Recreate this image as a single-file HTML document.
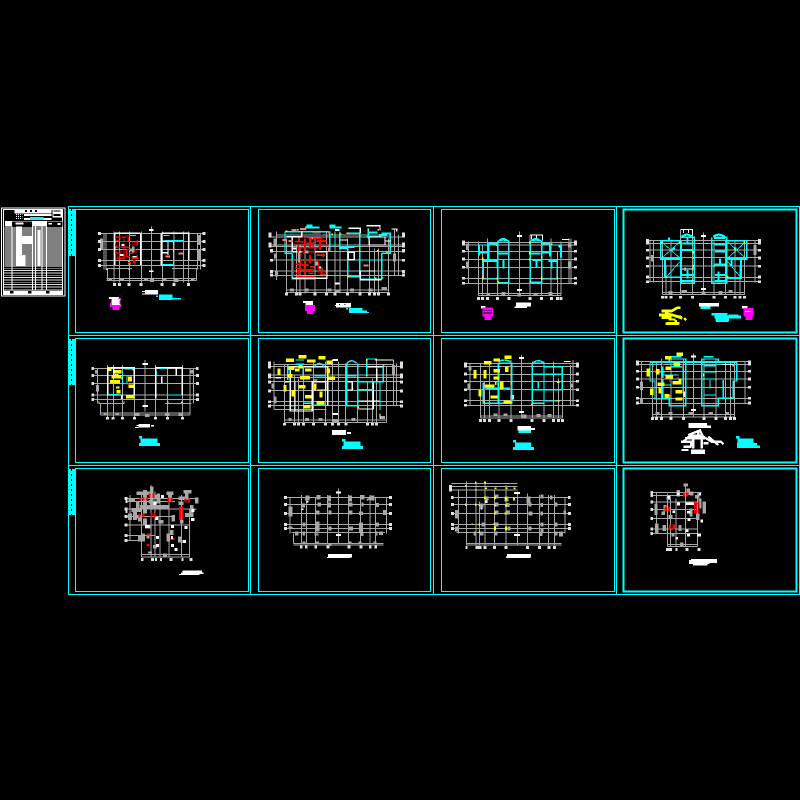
<!DOCTYPE html>
<html><head><meta charset="utf-8"><style>
html,body{margin:0;padding:0;background:#000}
svg{display:block}
path,rect{shape-rendering:crispEdges}
.g{stroke:#a8a8a8;stroke-width:3;fill:none}
.gt{stroke:#a8a8a8;stroke-width:9;fill:none}
.b{stroke:#e0e0e0;stroke-width:9;fill:none}
.w{stroke:#fff;stroke-width:3;fill:none}
.wt{stroke:#fff;stroke-width:8;fill:none}
.c{stroke:#0ff;stroke-width:3;fill:none}
.ct{stroke:#0ff;stroke-width:6;fill:none}
.cd{stroke:#0ff;stroke-width:12;fill:none}
.y{stroke:#ff0;stroke-width:3;fill:none}
.yt{stroke:#ff0;stroke-width:12;fill:none}
.r{stroke:#f00;stroke-width:3;fill:none}
.rt{stroke:#f00;stroke-width:9;fill:none}
.p{stroke:#f08070;stroke-width:6;fill:none}
.m{stroke:#f0f;stroke-width:9;fill:none}
.bl{stroke:#a8a8a8;stroke-width:12;fill:none}
.wb{fill:#fff}.cb{fill:#0ff}
</style></head><body>
<svg width="800" height="800" viewBox="0 0 800 800" xmlns="http://www.w3.org/2000/svg">
<rect width="800" height="800" fill="#000"/>

<!-- frames -->
<g fill="none" stroke="#0ff" stroke-width="1">
<path d="M68.500 206.500H799.500V594.500H68.500ZM68.500 335.500H799.500M68.500 465.500H799.500M250.500 206.500V594.500M433.500 206.500V594.500M616.500 206.500V594.500"/>
<rect x="75.500" y="209.500" width="173" height="123"/><rect x="258.500" y="209.500" width="172" height="123"/><rect x="441.500" y="209.500" width="173" height="123"/>
<rect x="75.500" y="338.500" width="173" height="124"/><rect x="258.500" y="338.500" width="172" height="124"/><rect x="441.500" y="338.500" width="173" height="124"/>
<rect x="75.500" y="468.500" width="173" height="123"/><rect x="258.500" y="468.500" width="172" height="123"/><rect x="441.500" y="468.500" width="173" height="123"/>
<rect x="623.500" y="209.500" width="173" height="123" stroke-width="2"/><rect x="623.500" y="338.500" width="173" height="124" stroke-width="2"/><rect x="623.500" y="468.500" width="173" height="123" stroke-width="2"/>
</g>
<g><rect x="69" y="209" width="6" height="47" fill="#0ff"/><rect x="69" y="339" width="6" height="46" fill="#0ff"/><rect x="69" y="469" width="6" height="46" fill="#0ff"/>
<path d="M71.500 209V256M71.500 339V385M71.500 469V515" stroke="#000" stroke-width="1" stroke-dasharray="2 3" fill="none"/></g>

<!-- title block + plan 1 -->
<g transform="translate(0,200) scale(.33333)">
<rect x="4.500" y="23.500" width="190" height="264" fill="none" stroke="#fff" stroke-width="3"/>
<rect x="10" y="28" width="178" height="255" fill="none" stroke="#fff" stroke-width="3"/>
<rect x="44" y="27" width="110" height="13" class="wb"/><path d="M75 33h45" stroke="#000" stroke-width="5" stroke-dasharray="6 9"/>
<rect x="72" y="42" width="82" height="6" class="wb"/><rect x="72" y="54" width="82" height="6" class="wb"/><rect x="90" y="51" width="40" height="9" class="cb"/>
<rect x="157" y="27" width="30" height="26" class="wb"/><rect x="160" y="32" width="22" height="3" fill="#000"/><rect x="160" y="42" width="22" height="6" fill="#000"/>
<path d="M48 44h20M48 50h20M48 56h20" stroke="#fff" stroke-width="3" stroke-dasharray="3 3"/>
<rect x="15" y="63" width="172" height="16" class="wb"/><rect x="36" y="64" width="60" height="15" fill="#000"/><rect x="140" y="64" width="47" height="15" fill="#000"/><rect x="46" y="68" width="24" height="6" class="wb"/><rect x="146" y="69" width="10" height="5" class="wb"/><rect x="173" y="69" width="8" height="6" class="wb"/>
<rect x="48" y="80" width="18" height="120" class="wb"/><rect x="66" y="110" width="30" height="24" class="wb"/><rect x="66" y="165" width="10" height="35" class="wb"/><rect x="112" y="90" width="10" height="110" class="wb"/>
<path d="M14 84h174M14 90h174M14 96h174M14 102h174M14 108h174M14 114h174M14 120h174M14 126h174M14 132h174M14 138h174M14 144h174M14 150h174M14 156h174M14 162h174M14 168h174M14 174h174M14 180h174M14 186h174M14 192h174M14 198h174" stroke="#fff" stroke-width="3" fill="none"/>
<path d="M12 205h175M12 212h175M12 219h175M12 226h175M12 233h175M12 240h175M12 247h175M12 254h175M12 261h175M12 268h175" stroke="#ddd" stroke-width="2.500"/>
<path d="M36 80V270M97 80V270M106 80V270M126 80V270M139 64V270" stroke="#fff" stroke-width="3"/>
<rect x="12" y="272" width="176" height="10" class="wb"/><path d="M30 277h120" stroke="#000" stroke-width="8" stroke-dasharray="10 44"/>

<path class="g" d="M300 100H610M300 124H610M300 148H610M300 182H610M300 196H610M318 205H396M516 205H595M320 236H590M320 242H590M312 100V208M318 100V208M342 95V248M358 95V248M388 95V248M424 95V248M454 80V240M487 95V248M522 95V248M550 95V248M566 95V248M592 100V208M602 100V208M322 205V242M589 205V242"/>
<path class="gt" d="M326 239h10M360 239h12M432 239h12M450 241h12M488 239h12M524 241h12M573 239h10M304 115v35M596 105v30M596 150v30"/>
<path class="b" d="M294 100h9M294 124h9M294 148h9M294 182h9M294 196h9M608 124h9M608 148h9M608 182h9M608 196h9M339 253h9M354 253h9M383 253h9M419 253h9M482 253h9M517 253h9M561 253h9M608 100h8"/>
<path class="wt" d="M447 90h14M447 214h14" style="stroke-width:5"/>
<path class="w" d="M344 100V195M422 100V195M344 100H422M484 100V195H520M566 100V180M484 100H568M504 125V165M484 124H520" style="stroke-width:4"/>
<path class="c" d="M390 107h18M490 107h18M494 122H552M520 122v70M488 193h32M385 182v12"/>
<path class="r" style="stroke-width:4" d="M347 107v8M360 107v14M380 108h10M347 130v9M347 150v12M360 150v30M372 135v45M395 126h15M412 120v18M388 160h12M350 175h25M412 165v14M404 180v14M380 170h10M408 150v12M350 112h10M366 112h14M350 122h10M368 130v10M346 142h14M350 160h10M362 142h26M385 112v14M392 135h16M380 150v18M396 170v10M350 168h8M366 168h16M384 188h10"/>
<path class="r" style="stroke:#c02a00;stroke-width:3" d="M360 125h30M372 110v14M378 148h30M395 175h22M400 180v10"/>
<path class="g" style="stroke-width:8" d="M400 140v18M390 150h14"/>
<path class="wt" style="stroke-width:5" d="M365 135h8M360 165h10M398 170h12M485 158h18"/>
<path class="y" d="M520 125v8M520 148v8M386 192h6M318 208h6M340 208h4M386 208h4"/>
<path class="p" d="M497 170h13M535 161h14"/>
<rect x="435" y="270" width="39" height="14" class="wb"/><path class="w" d="M426 274h9M426 282h9"/>
<rect x="468" y="286" width="6" height="5" class="cb"/><rect x="477" y="283" width="40" height="17" class="cb"/><rect x="517" y="294" width="26" height="5" class="cb"/>
<rect x="327" y="291" width="30" height="6" class="wb"/><rect x="335" y="297" width="26" height="18" class="wb"/><rect x="330" y="315" width="34" height="6" fill="#f0f"/><rect x="338" y="321" width="20" height="9" fill="#f0f"/><path class="m" style="stroke-width:3" d="M355 295h8M360 302v10M332 308v8"/>
</g>

<!-- plan 2 -->
<g transform="translate(255,205) scale(.33333)">
<path class="g" d="M48 96H448M48 120H448M48 125H448M48 140H448M48 165H448M48 198H448M48 212H448M65 90H405M95 255H400M95 262H400M65 80V225M95 100V265M124 120V265M135 120V265M150 120V265M180 100V265M215 80V265M240 80V265M255 80V265M278 100V265M315 100V265M343 100V265M358 130V265M370 130V265M400 100V265M418 70V212M430 90V212"/>
<path class="gt" d="M62 145v15M60 100v25M65 200v15M418 145v25M105 255h12M150 255h10M218 255h12M238 258h16M285 255h12M340 255h12M380 250h16"/>
<path class="b" d="M45 82v16M45 112v16M50 132v10M50 162v8M50 195v10M50 207v8M445 82v16M445 112v16M445 132v10M445 162v8M445 195v10M445 207v8M95 263v9M125 263v9M135 263v9M180 263v9M215 263v9M240 263v9M278 263v9M315 263v9M343 263v9M358 263v9M370 263v9M400 263v9"/>
<path class="c" style="stroke-width:4" d="M90 80V145H112M90 80h135M224 80v60M240 80v50M254 82V130H278M314 85V215H278V130M278 85H315M380 85h26v60H380M380 145V222H316M340 70v30M335 95h45M112 145V222H180M280 165H380"/>
<path class="cd" style="stroke-width:6" d="M155 62h18M224 62h18M150 67h44M224 67h36M340 82h28M372 90h24M268 126h30M252 128h26"/>
<path class="w" style="stroke-width:4" d="M112 140H216V220H112M95 95H145M112 95V140M140 80v15M280 142h18v22H280ZM342 96V120H390V96H342M316 196V224H380M318 198H360M280 70h36V85M335 62h40v14M410 72h15v8M255 105h24M390 108h18"/>
<path class="wt" style="stroke-width:6" d="M240 75h14M240 235h14M110 130h14M188 188h10"/>
<path class="r" style="stroke-width:5" d="M132 98v10M145 85v12M172 85h24M160 100h40M200 88v12M150 115h30M135 128h55M165 100v30M115 165v50M122 178h15M140 180h20M165 185h14M122 205h10M188 162v10M188 200h25M190 172v20M205 145v12M145 145h16M125 215h55M135 162v20M210 120h8M120 110h25M130 120v25M150 100v30M175 110v20M195 110v25M140 140h40M128 150h12M165 150v25M120 190h20M150 195h25M175 170h10M132 195v15M185 108h30"/>
<path class="r" style="stroke:#b82a00;stroke-width:5" d="M145 165h30M150 178v30M135 195h20M190 195h15M195 208h20M160 205h15M185 150h25M200 185v20"/>
<path class="g" style="stroke-width:7" d="M132 142v30M185 170v12M150 140h10"/>
<path class="y" style="stroke-width:4" d="M92 78h5M128 72v5M232 85v5M258 85v5M275 85h5M340 72v4M370 72v4M396 140v5M368 135v5M315 135v5M315 90v5M280 212v5M380 219h5M360 220h5"/>
<path class="p" d="M110 75h14M135 72h20M82 105h14M100 108h14M325 181h16M222 78v8M222 128v10M170 100h4"/>
<rect x="243" y="294" width="45" height="13" class="wb"/><path class="w" d="M240 302h6"/><path d="M252 298h3M268 298h3" stroke="#000" stroke-width="3"/>
<rect x="273" y="309" width="6" height="5" class="cb"/><rect x="282" y="309" width="40" height="15" class="cb"/><rect x="322" y="317" width="14" height="7" class="cb"/><rect x="336" y="321" width="6" height="3" class="cb"/>
<rect x="144" y="288" width="30" height="6" class="wb"/><rect x="152" y="294" width="22" height="6" class="wb"/><rect x="150" y="300" width="30" height="18" fill="#f0f"/><rect x="156" y="318" width="18" height="9" fill="#f0f"/>
</g>

<!-- plans 3 and 4 -->
<g transform="translate(435,205) scale(.33333)">
<path class="g" d="M85 112H422M85 120H422M85 140H422M85 163H422M85 187H422M85 220H422M85 235H422M130 265H378M130 272H378M100 110V237M130 110V272M142 120V272M157 100V272M187 110V272M220 110V272M253 80V272M285 90V272M320 110V272M348 100V272M367 140V272M378 110V272M408 100V237M402 100V237"/>
<path class="gt" d="M97 170v20M97 115v20M403 170v20M404 115v12M155 268h10M200 266h12M248 270h10M295 268h12M340 266h12"/>
<path class="b" d="M85 106v16M85 135v8M85 158v8M85 183v8M85 216v8M85 231v8M421 106v16M421 135v8M421 158v8M421 183v8M421 216v8M421 231v8M130 276v9M142 276v9M157 276v9M187 276v9M222 276v9M285 276v9M320 276v9M350 276v9M367 276v9M378 276v9"/>
<path class="w" d="M285 90h37v16M290 90v14M305 90v14M381 103h22"/>
<path class="wt" style="stroke-width:5" d="M246 93h15M246 255h15"/>
<path class="c" style="stroke-width:4" d="M188 108H222V233H188V108M286 108H320V232H286V108M145 162v60H188M367 162v60H320M130 120h30M349 120h28"/>
<path class="ct" d="M132 122v30M160 115h25v8M160 115v50M132 142h25M190 145h30M145 168h40M187 165v25M205 165v25M192 108q12-12 26 0M290 108q12-12 26 0M288 145h28M320 115h25M345 118v36M320 142h25M378 122v36M292 165h28M340 168h25M305 165v22M350 165v25"/>
<path class="y" style="stroke-width:4" d="M143 158v8M143 215v8M187 218v6M187 232h5M284 110v6M284 140v8M284 160v6M320 155v6M320 215v10M367 215v8M347 118h5M373 122v6M284 230h4"/>
<rect x="243" y="293" width="45" height="12" class="wb"/><rect x="238" y="305" width="38" height="4" class="wb"/>
<rect x="138" y="303" width="14" height="8" class="wb"/><rect x="143" y="308" width="31" height="27" fill="#f0f"/><path d="M145 316h26M145 324h26" stroke="#000" stroke-width="2"/><rect x="149" y="335" width="20" height="10" fill="#f0f"/>

<path class="g" d="M635 107H975M635 115H975M635 135H975M635 158H975M635 183H975M635 217H975M635 230H975M683 262H930M683 268H930M645 105V232M655 105V232M683 110V268M693 180V268M708 105V268M737 75V268M772 75V268M805 82V268M837 105V268M872 105V268M900 105V268M915 180V268M928 110V268M960 105V232"/>
<path class="gt" d="M652 150v20M960 120v30M700 262h12M740 260h16M800 264h12M850 262h12M880 260h12"/>
<path class="b" d="M637 102v16M637 132v8M637 155v8M637 180v8M637 212v8M637 226v8M973 102v16M973 132v8M973 155v8M973 180v8M973 212v8M973 226v8M683 273v7M693 273v7M708 273v7M737 273v7M772 273v7M837 273v7M872 273v7M900 273v7M915 273v7M928 273v7"/>
<path class="w" d="M737 73h36v22M745 74v10M760 74v10M737 192h45M750 188v10"/>
<path class="wt" style="stroke-width:5" d="M798 93h15M798 252h15"/>
<path class="c" style="stroke-width:5" d="M677 107H738V235H778V97H737M677 107V162H737M702 107V98M690 162V217H737M835 97H875V235H830V97M875 107H935V162H875M918 162V220H875M837 100H870"/>
<path class="c" style="stroke-width:2.500" d="M682 112L733 158M733 112L682 158M880 112L930 158M930 112L880 158M695 215L735 170M915 215L878 170"/>
<path class="ct" d="M740 95q15-12 32 0M742 115h32M757 95v20M835 95q15-12 35 0M838 118h34M740 135h34M840 140h32M735 210h40M757 195v25M840 210h30M850 200v25M840 228h38M740 228h36M712 130h8M897 130h8M838 178h34M855 160v20M890 160v25"/>
<path class="y" style="stroke-width:4" d="M680 110v5M734 110v5M775 138v8M775 180v8M738 162h5M772 158h5M837 180v6M872 178v6M900 130v6M928 110v6M690 215h5M875 215h5M770 228h5M738 228h5"/>
<rect x="792" y="294" width="60" height="10" class="wb"/><rect x="797" y="304" width="30" height="8" class="cb"/>
<path stroke="#ff0" stroke-width="8" fill="none" d="M680 318l30 0l18-10h8M672 330h40l30 10M690 325l50 12M680 338h30M722 345v10M695 355h38M748 345l5-5"/>
<rect x="700" y="340" width="22" height="7" fill="#ff0"/><rect x="692" y="352" width="40" height="8" fill="#ff0"/>
<path class="cd" style="stroke-width:8" d="M830 328h48M838 336h80M842 344h40M880 332h30"/><rect x="843" y="345" width="38" height="6" class="cb"/>
<rect x="921" y="303" width="16" height="8" class="wb"/><rect x="926" y="309" width="30" height="26" fill="#f0f"/><rect x="930" y="318" width="16" height="3" class="wb"/><rect x="932" y="335" width="20" height="10" fill="#f0f"/>
</g>

<!-- plans 5 and 6 -->
<g transform="translate(65,335) scale(.33333)">
<path class="g" d="M82 100H398M82 122H398M82 146H398M82 180H398M82 193H398M100 205H178M300 205H380M106 234H375M106 240H375M97 100V205M127 90V248M145 90V248M172 90V248M208 100V248M240 75V230M272 90V248M307 100V248M352 90V248M375 100V240M385 100V205M106 205V240"/>
<path class="gt" d="M115 237h10M152 237h10M210 239h14M240 241h14M300 239h14M340 238h12M95 105v10M380 105v10M97 150v20"/>
<path class="b" d="M79 100h8M79 122h8M79 146h8M79 180h8M79 193h8M393 122h9M393 146h9M393 180h9M393 193h9M393 100h7M128 246v8M144 246v8M172 246v8M208 246v8M271 246v8M307 246v8M352 246v8"/>
<path class="wt" style="stroke-width:6" d="M232 87h17M232 213h17"/>
<path class="w" style="stroke-width:4" d="M128 98V180H172M128 98H208V180M272 98H352V180M272 98V190M334 98V122M290 124V146M146 100v30M170 180v12"/>
<path class="c" d="M172 108v40M178 102h30M275 108v12M283 100h18M186 122v24M290 146h60M310 180h40M132 178h30"/>
<path class="yt" d="M130 102h10M148 110h22M135 140h30M140 125h30M195 125v15M190 154h18M183 185h25M155 170h12M150 122h10M158 155v6" style="stroke-width:11"/>
<path class="y" style="stroke-width:4" d="M175 202h4M100 202h4M348 202h4M307 202h4M205 102v5M172 128v6"/>
<path class="r" d="M184 147h8"/>
<rect x="220" y="267" width="35" height="11" class="wb"/><rect x="258" y="270" width="9" height="5" class="wb"/><path class="w" d="M210 277h10M214 271h6"/>
<rect x="222" y="303" width="9" height="7" class="cb"/><rect x="227" y="310" width="50" height="14" class="cb"/><rect x="222" y="324" width="63" height="9" class="cb"/>

<path class="g" d="M612 95H1010M612 120H1010M612 127H1010M612 140H1010M612 166H1010M612 200H1010M612 212H1010M627 88H985M627 224H785M658 255H965M658 262H965M627 80V224M658 88V262M688 120V262M700 130V262M715 100V262M745 75V262M782 80V262M803 75V262M820 80V262M842 85V262M878 85V262M908 140V262M922 130V262M935 75V262M965 95V262M985 75V212M995 85V212"/>
<path class="gt" d="M624 145v15M630 185v20M985 90v30M670 253h10M720 253h12M760 253h12M803 256h18M860 253h12M945 248h15"/>
<path class="b" d="M614 80v20M614 115v15M614 137v8M614 164v8M614 196v8M614 209v8M1009 80v20M1009 115v15M1009 137v8M1009 164v8M1009 196v8M1009 209v8M658 264v8M688 264v8M700 264v8M715 264v8M745 264v8M782 264v8M802 264v8M820 264v8M843 264v8M908 264v8M922 264v8M935 264v8"/>
<path class="wt" style="stroke-width:6" d="M803 75h16M803 237h16"/>
<path class="w" style="stroke-width:4" d="M676 95H788V212M676 95V228H742V140H782V165H745M690 140V228M845 140H862V165H845ZM905 95H955M935 100V140M880 198H945M880 222H925M925 140V222M945 140V222M930 75H985M632 128h16M660 140h12M745 135h12"/>
<path class="c" style="stroke-width:4" d="M668 90V135M692 75h25M692 88h25M715 95v35M748 95q15-20 30 0M748 122h32M845 85q15-15 30 0M845 85V212H878V85M845 122h30M905 72h28M905 72V120M955 90V140H878M878 164H925M945 140V225M845 212H880M742 210h40M676 212h10M715 205h25"/>
<path class="yt" d="M663 76h24M700 65h25M726 78h25M760 68h22M785 82h18M642 100v20M670 100h18M690 105h14M720 105h20M790 100v16M788 130h22M705 128h30M660 150v20M685 165v20M700 155h22M750 145v20M720 185h20M768 170v18M755 203h24M668 122h14M715 215h22M700 95h12" style="stroke-width:10"/>
<path class="y" style="stroke-width:4" d="M905 72v8M933 72h3M955 90h4M905 120v5M825 120h3M880 215v6"/>
<path class="r" d="M755 160v6M865 160v6"/>
<path class="w" d="M945 235v16"/>
<rect x="801" y="285" width="42" height="15" class="wb"/><rect x="846" y="291" width="12" height="6" class="wb"/>
<rect x="831" y="312" width="10" height="7" class="cb"/><rect x="836" y="319" width="50" height="14" class="cb"/><rect x="831" y="333" width="63" height="9" class="cb"/>
</g>

<!-- plans 7 and 8 -->
<g transform="translate(435,335) scale(.33333)">
<path class="g" d="M90 85H428M90 95H428M90 118H428M90 140H428M90 164H428M90 197H428M90 211H428M137 243H383M137 249H383M105 85V211M137 85V249M148 140V249M163 85V249M192 75V249M228 75V249M260 60V249M292 80V249M327 80V249M355 80V249M370 130V249M382 95V249M414 75V211M407 90V211"/>
<path class="gt" d="M102 145v20M105 95v12M410 145v12M175 240h12M205 240h12M260 243h14M305 241h12M338 241h12"/>
<path class="b" d="M91 82v16M91 113v8M91 135v8M91 160v8M91 193v8M91 207v8M427 82v16M427 113v8M427 135v8M427 160v8M427 193v8M427 207v8M136 252v9M148 252v9M163 252v9M192 252v9M228 252v9M291 252v9M327 252v9M355 252v9M370 252v9M382 252v9"/>
<path class="wt" style="stroke-width:6" d="M252 69h15M252 231h15"/>
<path class="w" d="M387 79h20M345 95h12"/>
<rect x="227" y="180" width="10" height="14" class="wb"/>
<path class="c" style="stroke-width:4" d="M190 85H230V205H145V142M292 85H327V205H292V85M327 95h55V164M327 118h55M292 118h35M292 164h90M330 198h45M190 80q18-10 36 0M295 82q15-10 30 0M145 160h80M190 85V205M310 140v20M345 198h15"/>
<path class="yt" d="M147 83h22M175 75h20M208 67h22M120 105v25M150 105v25M175 107h20M215 95v16M175 129h18M150 153h28M200 140v22M135 165v20M166 186h22M205 201h22M180 145h4" style="stroke-width:10"/>
<path class="y" style="stroke-width:4" d="M228 115v6M228 140v8M228 200v6M143 198h6M365 198h10M366 142h8M327 118v4M352 95h4M290 205v5M380 138h4"/>
<path class="r" d="M205 165h8M148 162h6"/>
<rect x="247" y="273" width="41" height="14" class="wb"/><rect x="288" y="279" width="12" height="6" class="wb"/><rect x="250" y="287" width="38" height="7" class="cb"/>
<rect x="234" y="315" width="9" height="7" class="cb"/><rect x="240" y="322" width="48" height="14" class="cb"/><rect x="234" y="336" width="63" height="9" class="cb"/>

<path class="g" d="M605 80H945M605 88H945M605 110H945M605 132H945M605 157H945M605 190H945M605 205H945M652 238H898M652 246H898M620 80V205M652 80V246M664 80V246M680 70V246M708 70V246M745 70V246M775 55V246M807 70V246M843 70V246M872 80V246M887 80V246M898 80V246M930 80V205"/>
<path class="gt" d="M620 140v25M620 190v15M662 236h12M700 236h12M760 236h14M820 236h14M870 236h12"/>
<path class="b" d="M607 76v16M607 105v8M607 128v8M607 153v8M607 186v8M607 200v8M943 76v16M943 105v8M943 128v8M943 153v8M943 186v8M943 200v8M652 246v9M664 246v9M680 246v9M708 246v9M745 246v9M807 246v9M843 246v9M872 246v9M887 246v9M898 246v9"/>
<path class="wt" style="stroke-width:6" d="M768 65h15M768 225h15"/>
<path class="c" style="stroke-width:4" d="M645 82H905V138H895V190H850V212H800V72H850V82M645 82V138H660V192H703V212H752V72H703V82M683 95V192M745 95V165M710 65h30M805 65h30M805 92h38M805 110h38M805 132h38M805 180h38M825 135v25M865 135v55M660 110h30M710 95h32M686 150h22M688 190h22M680 120h50M840 82h3"/>
<path class="yt" d="M690 68h20M724 58h20M640 100v24M668 102v16M715 88h20M692 100h16M692 125h22M735 130v18M668 148h20M650 160v20M675 158v18M688 182h16M722 170h20M722 192h20M712 143h28" style="stroke-width:10"/>
<path class="r" d="M655 90v6M682 82v8M742 88v8M655 108h6M704 135v6M724 128h8M705 180v6M680 130h6"/>
<path class="y" style="stroke-width:4" d="M806 115v10M806 130v4M843 108v5M843 132v5M843 156v5M895 90v5M885 188h5"/>
<rect x="745" y="170" width="5" height="16" class="wb"/>
<path class="w" d="M862 88h30"/>
<rect x="760" y="264" width="56" height="7" class="wb"/><rect x="760" y="271" width="68" height="8" class="wb"/>
<path stroke="#fff" stroke-width="7" fill="none" d="M745 320l20-18h35l30 18h28l8 8M760 300l35-14 10 20M738 320h30l0 15M745 335h25M775 310l0 30M800 310l0 30M790 290v15M820 305l30 25M740 345h20M805 325h15M750 310h60"/>
<rect x="768" y="344" width="42" height="13" class="wb"/>
<rect x="903" y="303" width="11" height="7" class="cb"/><rect x="908" y="310" width="48" height="14" class="cb"/><rect x="906" y="324" width="60" height="7" class="cb"/><rect x="906" y="331" width="69" height="8" class="cb"/>
</g>

<!-- plans 9 and 10 -->
<g transform="translate(65,465) scale(.33333)">
<path class="g" d="M182 100H395M182 110H330M182 132H395M182 155H330M182 180H373M182 212H270M182 226H230M230 268H375M230 276H375M195 90V226M230 85V276M258 60V276M270 80V276M285 100V276M312 80V276M350 90V276M373 130V276"/>
<path stroke="#a8a8a8" stroke-width="11" fill="none" d="M190 105h20M195 145v20M215 85h50M218 110v30M240 75v70M225 125h40M260 65v60M275 90v10M280 85v30M305 85h20M315 80v30M340 100h30M355 80h25M365 85v15M395 98v18M380 120v25M350 130v45M360 150h25M260 125h50M240 160v20M235 205v25M225 210v20M270 240v10M310 205v25M320 195v15M345 215v18M300 265v10M225 150v20M210 140v25M240 185h20M280 170h15M325 150v20M255 260v6M200 135h30M250 110h15M340 115h15M205 155h15M245 215h8"/>
<path class="rt" d="M226 97v10M236 97v10M246 97v10M254 85v12M265 85v12M310 98v14M320 98v14M362 100v12M372 100v12M345 125v40M352 125v40M224 145v12M235 145v12M260 143v14M268 143v14M244 209h12M244 240h10M316 222h12" style="stroke-width:6"/>
<path stroke="#fff" stroke-width="9" fill="none" d="M288 95h9M272 160h9M380 136h9M358 187h10M318 184h9M273 217h9M318 218h6M318 242h9M273 241h9M328 254h9M352 230h11M378 164h11M240 184h13M266 116h8"/>
<path class="b" d="M179 100h9M182 110h6M179 132h9M182 140h6M179 155h9M179 180h9M179 212h9M179 226h9M228 283h7M258 283h9M270 283h6M285 283h6M314 283h9M350 283h6M373 283h9"/>
<rect x="353" y="316" width="58" height="6" class="wb"/><rect x="348" y="322" width="68" height="5" class="wb"/><rect x="342" y="327" width="62" height="3" class="wb"/>

<path class="g" d="M665 97H980M665 118H980M665 145H980M665 178H980M665 190H980M680 202H960M685 235H955M685 240H955M675 97V205M710 90V235M725 97V235M752 97V235M787 90V235M820 70V235M851 90V235M887 90V235M915 90V235M932 97V235M965 97V205M685 205V235"/>
<path class="bl" d="M728 92v14M760 90v14M792 92v18M855 92v18M892 90v14M922 92v14M710 122h10M758 118h10M792 112v16M852 118h10M890 118h6M932 120h10M752 142h12M790 142h10M852 142h10M888 140v10M676 125v30M960 135v15M712 178h10M758 170v30M790 190h10M852 190h12M888 172v30M932 178h10M690 205h10M712 205h8M754 205v6M888 207h8M930 205h8M948 200v10M676 185v6"/>
<path stroke="#a8a8a8" stroke-width="6" fill="none" d="M720 105l15-8M905 105l20-8M790 240h10M712 232h10M750 232h12M880 232h10M850 232h10M925 232h10"/>
<path class="wb" d="M725 108h5v5h-5zM710 130h6v5h-6z"/>
<path class="b" d="M657 97h9M657 118h9M657 145h9M657 178h9M657 190h9M972 97h9M972 118h9M972 145h9M972 178h9M972 190h9M705 246h8M720 246h8M748 246h8M785 246h8M847 246h9M883 246h9M912 246h8M928 246h8"/>
<path class="wt" style="stroke-width:6" d="M813 83h15M813 210h15"/>
<rect x="789" y="267" width="72" height="10" class="wb"/><rect x="786" y="276" width="70" height="3" class="wb"/>
</g>

<!-- plans 11 and 12 -->
<g transform="translate(435,465) scale(.33333)">
<path class="g" d="M50 55H248M50 65H248M50 75H248M50 97H405M50 118H405M50 145H405M50 178H405M50 190H405M65 203H390M95 235H380M95 240H380M70 75V205M95 50V240M123 50V240M133 110V240M150 50V240M178 75V240M213 60V240M247 80V240M277 85V240M313 90V240M340 90V240M358 90V240M390 97V205"/>
<path class="bl" d="M155 95v12M180 95h10M215 95v14M280 95v20M316 95h10M345 98h8M135 122h10M180 118h10M215 120h8M280 118h10M316 120h8M358 118h10M180 142h10M215 142h10M280 145h12M316 145h8M385 143h8M140 178h8M180 178h10M218 190h8M280 190h10M316 178h10M358 178h10M316 195h10M115 205h8M135 205h10M180 205h8M315 207h8M358 205h10M378 200v14M66 135v25M66 185v15"/>
<path class="y" style="stroke-width:5" d="M122 50v6M150 50v6M92 60v4M122 72v4M150 70h6M178 70h6M212 70h6M235 70h6M92 115v8M122 115v8M133 176v6M112 175v4M178 174v5M133 118v5M133 200v4"/>
<path class="yt" d="M150 94v8M180 94v8M213 96v10M237 98v8M213 118v6M180 118v6M180 142v6M212 142v6M180 185v12M213 185v12" style="stroke-width:6"/>
<rect x="237" y="81" width="18" height="6" class="wb"/><rect x="237" y="207" width="18" height="6" class="wb"/><rect x="137" y="128" width="6" height="6" class="wb"/><rect x="150" y="106" width="8" height="8" class="wb"/>
<path class="b" d="M47 60v20M48 97h8M48 118h9M48 145h9M48 178h9M48 190h9M399 97h8M399 118h9M399 145h9M399 178h9M399 190h9M92 248h6M122 248h18M145 248h9M174 248h9M209 248h9M273 248h9M309 248h9M338 248h9M354 248h9"/>
<rect x="216" y="267" width="72" height="10" class="wb"/><rect x="213" y="275" width="72" height="4" class="wb"/>

<path class="g" d="M648 82H800M648 92H760M648 111H800M648 133H787M648 160H787M648 192H787M648 205H787M697 238H787M697 244H787M665 82V205M697 85V244M707 100V244M723 100V244M752 55V244M787 85V244"/>
<path stroke="#a8a8a8" stroke-width="10" fill="none" d="M730 75v20M745 60h14M770 80v12M760 70v20M780 95h14M795 100v30M808 110v35M788 145v20M663 115v35M665 175v30M695 100h10M690 120v20M700 155h12M688 180v18M710 210h8M735 238h10M735 180v18M685 140v10M768 130v25"/>
<path class="rt" d="M747 83v12M757 83v12M692 124v16M702 124v16M705 178v16M716 178v16" style="stroke-width:7"/>
<path stroke="#f00" stroke-width="3" fill="none" d="M778 108v36M785 108v36M792 108v36M778 115h14M778 138h14"/>
<path stroke="#fff" stroke-width="8" fill="none" d="M726 87h8M790 88h8M698 97h9M726 117h9M752 116h25M756 142h10M712 140h8M758 164h8M752 197h9M756 211h9M786 210h12M722 220h7M796 168h8"/>
<path class="b" d="M646 82h8M646 92h8M646 111h8M646 133h8M646 160h8M646 192h8M646 205h8M693 253h18M722 253h6M751 253h9M787 253h9"/>
<rect x="768" y="282" width="78" height="12" class="wb"/><rect x="762" y="285" width="62" height="12" class="wb"/><rect x="774" y="297" width="44" height="5" class="wb"/>
</g>
</svg>
</body></html>
